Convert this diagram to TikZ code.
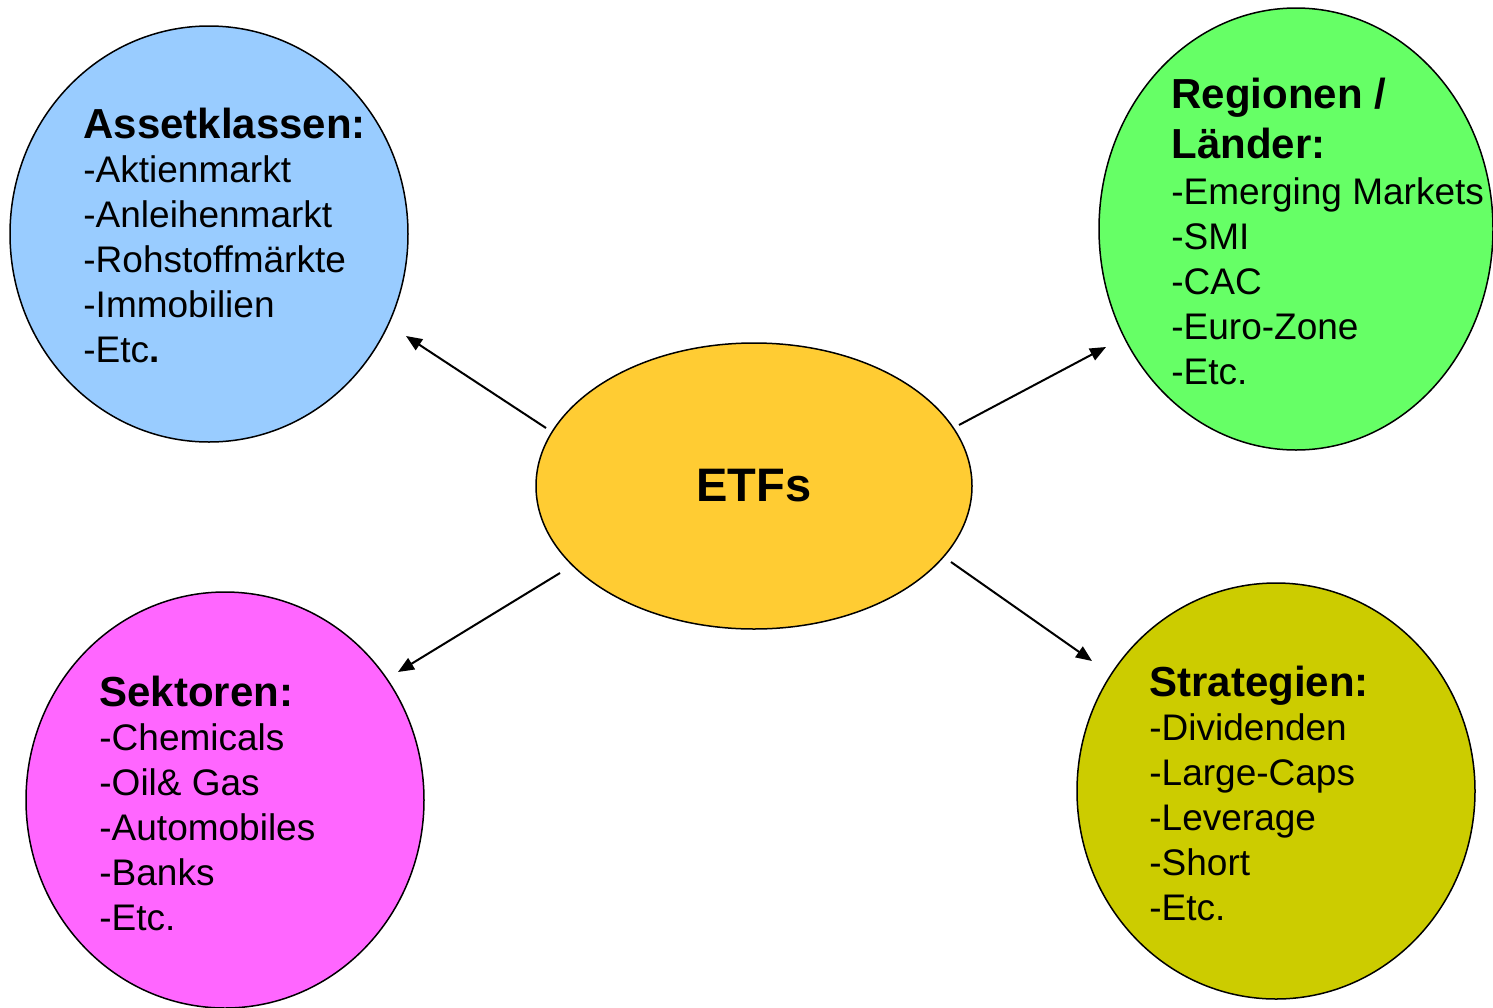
\documentclass[tikz,border=0pt]{standalone}
\usepackage{fontspec}
\setmainfont{Liberation Sans}
\usetikzlibrary{arrows.meta, shapes.geometric}

\newcommand{\blobtitle}[1]{{\fontsize{21}{22.4}\selectfont\bfseries #1}}

\begin{document}
\begin{tikzpicture}[x=0.5pt, y=-0.5pt,
  blob/.style = {ellipse, draw, line width=0.75pt, inner sep=0pt},
  listtext/.style = {anchor=base west, align=left, inner sep=0pt, font=\fontsize{18.5}{22.4}\selectfont},
  arrow/.style = {-{Triangle[length=8pt, width=6.5pt]}, line width=1pt}
]
\useasboundingbox (0,0) rectangle (1493,1007);
% circles
\node[blob, fill={rgb,255:red,153;green,204;blue,255}, minimum width=199pt, minimum height=208pt] (asset) at (209,234) {};
\node[blob, fill={rgb,255:red,102;green,255;blue,102}, minimum width=197pt, minimum height=221pt] (region) at (1296,229) {};
\node[blob, fill={rgb,255:red,255;green,204;blue,51}, minimum width=218pt, minimum height=143pt, font=\fontsize{23.5}{28}\selectfont\bfseries] (etf) at (754,486) {ETFs};
\node[blob, fill={rgb,255:red,255;green,102;blue,255}, minimum width=199pt, minimum height=208pt] (sector) at (225,800) {};
\node[blob, fill={rgb,255:red,204;green,204;blue,0}, minimum width=199pt, minimum height=208pt] (strategy) at (1276,791) {};
% texts (placed at the baseline of their last line)
\node[listtext] (assettext) at (83,362) {\blobtitle{Assetklassen:}\\-Aktienmarkt\\-Anleihenmarkt\\-Rohstoffmärkte\\-Immobilien\\-Etc\textbf{.}};
\node[listtext] (regiontext) at (1171,384) {\blobtitle{Regionen /}\\[2.6pt]\blobtitle{Länder:}\\[1pt]-Emerging Markets\\-SMI\\-CAC\\-Euro-Zone\\-Etc.};
\node[listtext] (sectortext) at (99,930) {\blobtitle{Sektoren:}\\-Chemicals\\-Oil\& Gas\\-Automobiles\\-Banks\\-Etc.};
\node[listtext] (strategytext) at (1149,920) {\blobtitle{Strategien:}\\-Dividenden\\-Large-Caps\\-Leverage\\-Short\\-Etc.};
% arrows
\coordinate (etf-nw) at (546,428);
\coordinate (etf-ne) at (959,425);
\coordinate (etf-sw) at (560,573);
\coordinate (etf-se) at (951,562);
\coordinate (asset-in) at (406,336);
\coordinate (region-in) at (1106,347);
\coordinate (sector-in) at (398,672);
\coordinate (strategy-in) at (1092,661);
\draw[arrow] (etf-nw) -- (asset-in);
\draw[arrow] (etf-ne) -- (region-in);
\draw[arrow] (etf-sw) -- (sector-in);
\draw[arrow] (etf-se) -- (strategy-in);
\end{tikzpicture}
\end{document}
